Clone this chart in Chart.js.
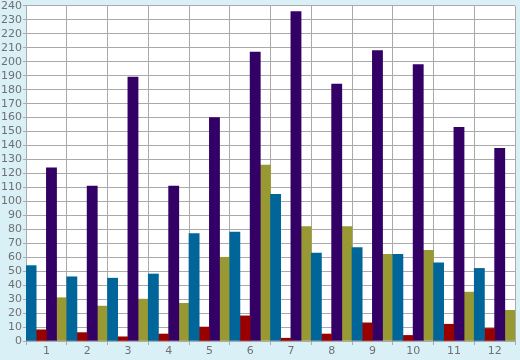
<!DOCTYPE html>
<html>
<head>
<meta charset="utf-8">
<script src="https://cdn.jsdelivr.net/npm/chart.js@4/dist/chart.umd.min.js"></script>
<style>
    body { margin: 0; background: #d9f0f7; }
</style>
</head>
<body>
<canvas id="barChart" width="520" height="360"></canvas>
<script>
// categorias e series
var categorias = ['1', '2', '3', '4', '5', '6', '7', '8', '9', '10', '11', '12'];
var serieAzul = [54, 46, 45, 48, 77, 78, 105, 63, 67, 62, 56, 52];
var serieVermelha = [8, 6, 3, 5, 10, 18, 2, 5, 13, 4, 12, 9];
var serieRoxa = [124, 111, 189, 111, 160, 207, 236, 184, 208, 198, 153, 138];
var serieOliva = [31, 25, 30, 27, 60, 126, 82, 82, 62, 65, 35, 22];

var fundo = {
    id: 'fundo',
    beforeDraw: function (chart) {
        var ctx = chart.ctx;
        var a = chart.chartArea;
        ctx.save();
        ctx.fillStyle = '#d9f0f7';
        ctx.fillRect(0, 0, chart.width, chart.height);
        ctx.fillStyle = '#ffffff';
        ctx.fillRect(a.left, a.top, a.right - a.left, a.bottom - a.top);
        ctx.restore();
    }
};

function ds(label, data, cor) {
    return {
        label: label,
        data: data,
        backgroundColor: cor,
        borderWidth: 0,
        barPercentage: 1,
        categoryPercentage: 1
    };
}

var ctx = document.getElementById('barChart').getContext('2d');
var chart = new Chart(ctx, {
    type: 'bar',
    data: {
        labels: categorias,
        datasets: [
            ds('A', serieAzul, '#006699'),
            ds('B', serieVermelha, '#990000'),
            ds('C', serieRoxa, '#330066'),
            ds('D', serieOliva, '#999933')
        ]
    },
    options: {
        responsive: false,
        animation: false,
        layout: { padding: { top: 0, right: 5, left: 0, bottom: 0 } },
        plugins: { legend: { display: false }, tooltip: { enabled: false } },
        scales: {
            x: {
                grid: { color: '#aaaaaa', lineWidth: 1, tickLength: 4, offset: true },
                border: { color: '#aaaaaa' },
                ticks: { color: '#707070', font: { family: 'DejaVu Sans', size: 11 }, padding: 0, maxRotation: 0 },
                afterFit: function (axis) { axis.height = 19; }
            },
            y: {
                min: 0,
                max: 240,
                grid: { color: '#aaaaaa', lineWidth: 1, tickLength: 3 },
                border: { color: '#aaaaaa' },
                ticks: { stepSize: 10, autoSkip: false, color: '#707070', font: { family: 'DejaVu Sans', size: 11, lineHeight: 0.9 }, padding: 1 },
                afterFit: function (axis) { axis.width = 26; }
            }
        }
    },
    plugins: [fundo]
});
</script>
</body>
</html>
